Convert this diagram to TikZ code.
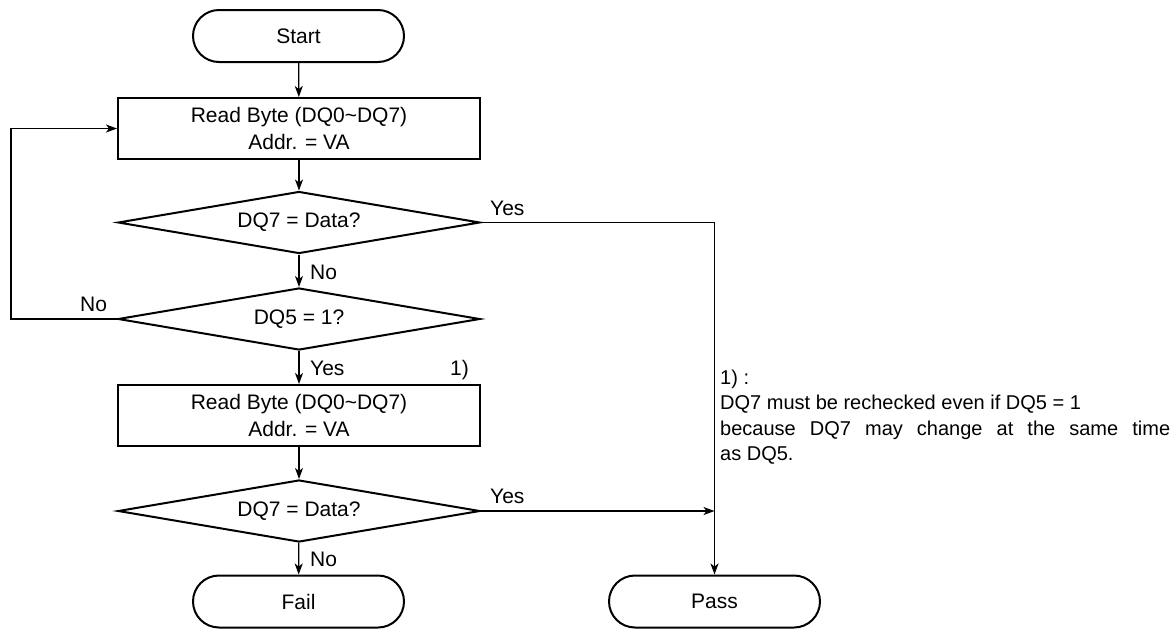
\documentclass[tikz,border=0pt]{standalone}
\usepackage{fontspec}
\setmainfont{Liberation Sans}
\usetikzlibrary{shapes.geometric,arrows.meta}
\begin{document}
\begin{tikzpicture}[x=1pt,y=-1pt,
  every node/.style={font=\fontsize{21}{25}\selectfont, inner sep=0pt},
  term/.style={draw, line width=2pt, rounded corners=26pt, minimum width=211pt, minimum height=52pt},
  proc/.style={draw, line width=2pt, minimum width=362pt, minimum height=61pt, align=center},
  dec/.style={draw, line width=2pt, diamond, aspect=5.8, minimum width=362pt, minimum height=62pt},
  conn/.style={line width=1.2pt, -{Stealth[length=11pt,width=8pt,inset=3pt]}},
  lbl/.style={anchor=base west},
  note/.style={anchor=base west, font=\fontsize{20}{24}\selectfont}]
\useasboundingbox (0,0) rectangle (1175,630);

\node[term] (start) at (298.5,36) {Start};
\node[proc] (b1) at (299,128.5) {Read Byte (DQ0\char`~DQ7)\\[2pt]Addr. = VA};
\node[dec] (d1) at (299,222.5) {DQ7 = Data?};
\node[dec] (d2) at (299,319) {DQ5 = 1?};
\node[proc] (b2) at (299,415.5) {Read Byte (DQ0\char`~DQ7)\\[2pt]Addr. = VA};
\node[dec] (d3) at (299,511) {DQ7 = Data?};
\node[term] (fail) at (298.5,601.5) {Fail};
\node[term] (pass) at (714.5,601.5) {Pass};

\coordinate (loop) at (11,319);

\draw[conn] (start) -- (b1);
\draw[conn] (b1) -- (d1);
\draw[conn] (d1) -- (d2);
\draw[conn] (d2) -- (b2);
\draw[conn] (b2) -- (d3);
\draw[conn] (d3) -- (fail);
\draw[conn] (d1.east) -| (pass.north);
\draw[conn] (d3.east) -- (d3.east -| pass.north);
\draw[conn] (d2.west) -- (loop) |- (b1.west);

\node[lbl] (yes1) at (490,215) {Yes};
\node[lbl] (no1) at (310,279) {No};
\node[lbl] (nol) at (80,311) {No};
\node[lbl] (yes2) at (310,375) {Yes};
\node[lbl] (fn) at (450,375) {1)};
\node[lbl] (yes3) at (490,503) {Yes};
\node[lbl] (no3) at (310,566) {No};

\node[note] (note1) at (720,384) {1) :};
\node[note] (note2) at (720,409.5) {DQ7 must be rechecked even if DQ5 = 1};
\node[note] (note3) at (720,435) {\makebox[450pt][s]{because DQ7 may change at the same time}};
\node[note] (note4) at (720,460.5) {as DQ5.};
\end{tikzpicture}
\end{document}
